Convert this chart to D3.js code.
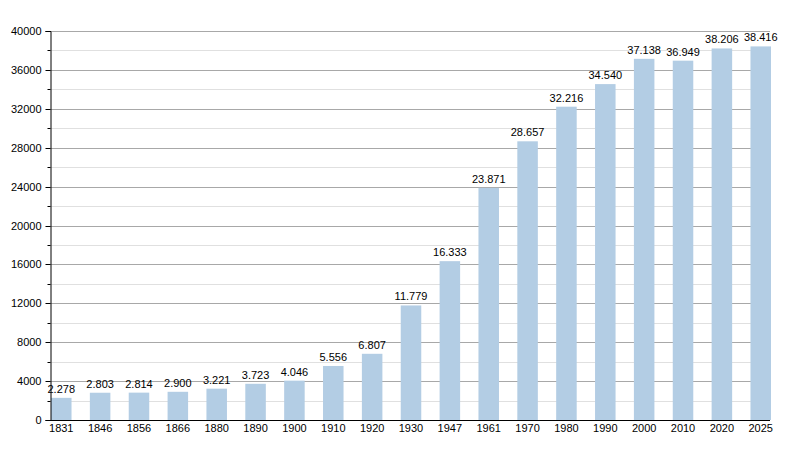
<!DOCTYPE html>
<html>
<head>
<meta charset="utf-8">
<script src="https://cdn.jsdelivr.net/npm/d3@7"></script>
<style>
  body { margin: 0; background: #fff; }
  text { font-family: "Liberation Sans", Arial, sans-serif; font-size: 11px; fill: #000; }
</style>
</head>
<body>
<div id="chart"></div>
<script>
const years = ["1831", "1846", "1856", "1866", "1880", "1890", "1900", "1910", "1920", "1930",
  "1947", "1961", "1970", "1980", "1990", "2000", "2010", "2020", "2025"];
const population = [2278, 2803, 2814, 2900, 3221, 3723, 4046, 5556, 6807, 11779,
  16333, 23871, 28657, 32216, 34540, 37138, 36949, 38206, 38416];
const majorTicks = d3.range(0, 40001, 4000);
const minorTicks = d3.range(2000, 40000, 4000);

const width = 800;
const height = 450;
const right = 770;

const svg = d3.select("#chart").append("svg")
  .attr("width", width)
  .attr("height", height);

const x = d3.scaleBand()
  .domain(years)
  .range([51, 771])
  .paddingInner(0.472)
  .paddingOuter(0);

const y = d3.scaleLinear()
  .domain([0, 40000])
  .range([420, 31]);

const fmt = (v) => d3.format(",")(v).replace(/,/g, ".");

// gridlines
svg.append("g")
  .selectAll("line")
  .data(minorTicks)
  .enter()
  .append("line")
  .attr("x1", 50).attr("x2", right)
  .attr("y1", (d) => Math.round(y(d)) + 0.5)
  .attr("y2", (d) => Math.round(y(d)) + 0.5)
  .attr("stroke", "#e0e0e0");

svg.append("g")
  .selectAll("line")
  .data(majorTicks.filter((d) => d > 0))
  .enter()
  .append("line")
  .attr("x1", 50).attr("x2", right)
  .attr("y1", (d) => Math.round(y(d)) + 0.5)
  .attr("y2", (d) => Math.round(y(d)) + 0.5)
  .attr("stroke", "#a8a8a8");

// bars
svg.append("g")
  .selectAll("rect")
  .data(years)
  .enter()
  .append("rect")
  .attr("x", (d) => x(d))
  .attr("width", x.bandwidth())
  .attr("y", (d, i) => y(population[i]))
  .attr("height", (d, i) => y(0) - y(population[i]))
  .attr("fill", "#b3cde4");

// value labels
svg.append("g")
  .selectAll("text")
  .data(years)
  .enter()
  .append("text")
  .attr("x", (d) => x(d) + x.bandwidth() / 2)
  .attr("y", (d, i) => y(population[i]) - 5)
  .attr("text-anchor", "middle")
  .text((d, i) => fmt(population[i]));

// y axis
const yAxis = svg.append("g")
  .attr("transform", "translate(50.5,0)")
  .call(d3.axisLeft(y).tickValues(majorTicks).tickSize(5).tickPadding(4).tickFormat(d3.format("d")));
yAxis.select(".domain").attr("stroke", "#000");
yAxis.selectAll(".tick line").attr("stroke", "#000");
yAxis.selectAll(".tick text").style("font-size", "11px").attr("fill", "#000");
yAxis.selectAll(".tick").attr("transform", (d) => `translate(0,${Math.round(y(d)) + 0.5})`);

svg.append("g")
  .selectAll("line")
  .data(minorTicks)
  .enter()
  .append("line")
  .attr("x1", 47.5).attr("x2", 50.5)
  .attr("y1", (d) => Math.round(y(d)) + 0.5)
  .attr("y2", (d) => Math.round(y(d)) + 0.5)
  .attr("stroke", "#000");

// x axis
svg.append("line")
  .attr("x1", 50).attr("x2", right)
  .attr("y1", 420.5).attr("y2", 420.5)
  .attr("stroke", "#000");

svg.append("g")
  .selectAll("text")
  .data(years)
  .enter()
  .append("text")
  .attr("x", (d) => x(d) + x.bandwidth() / 2)
  .attr("y", 432)
  .attr("text-anchor", "middle")
  .text((d) => d);
</script>
</body>
</html>
